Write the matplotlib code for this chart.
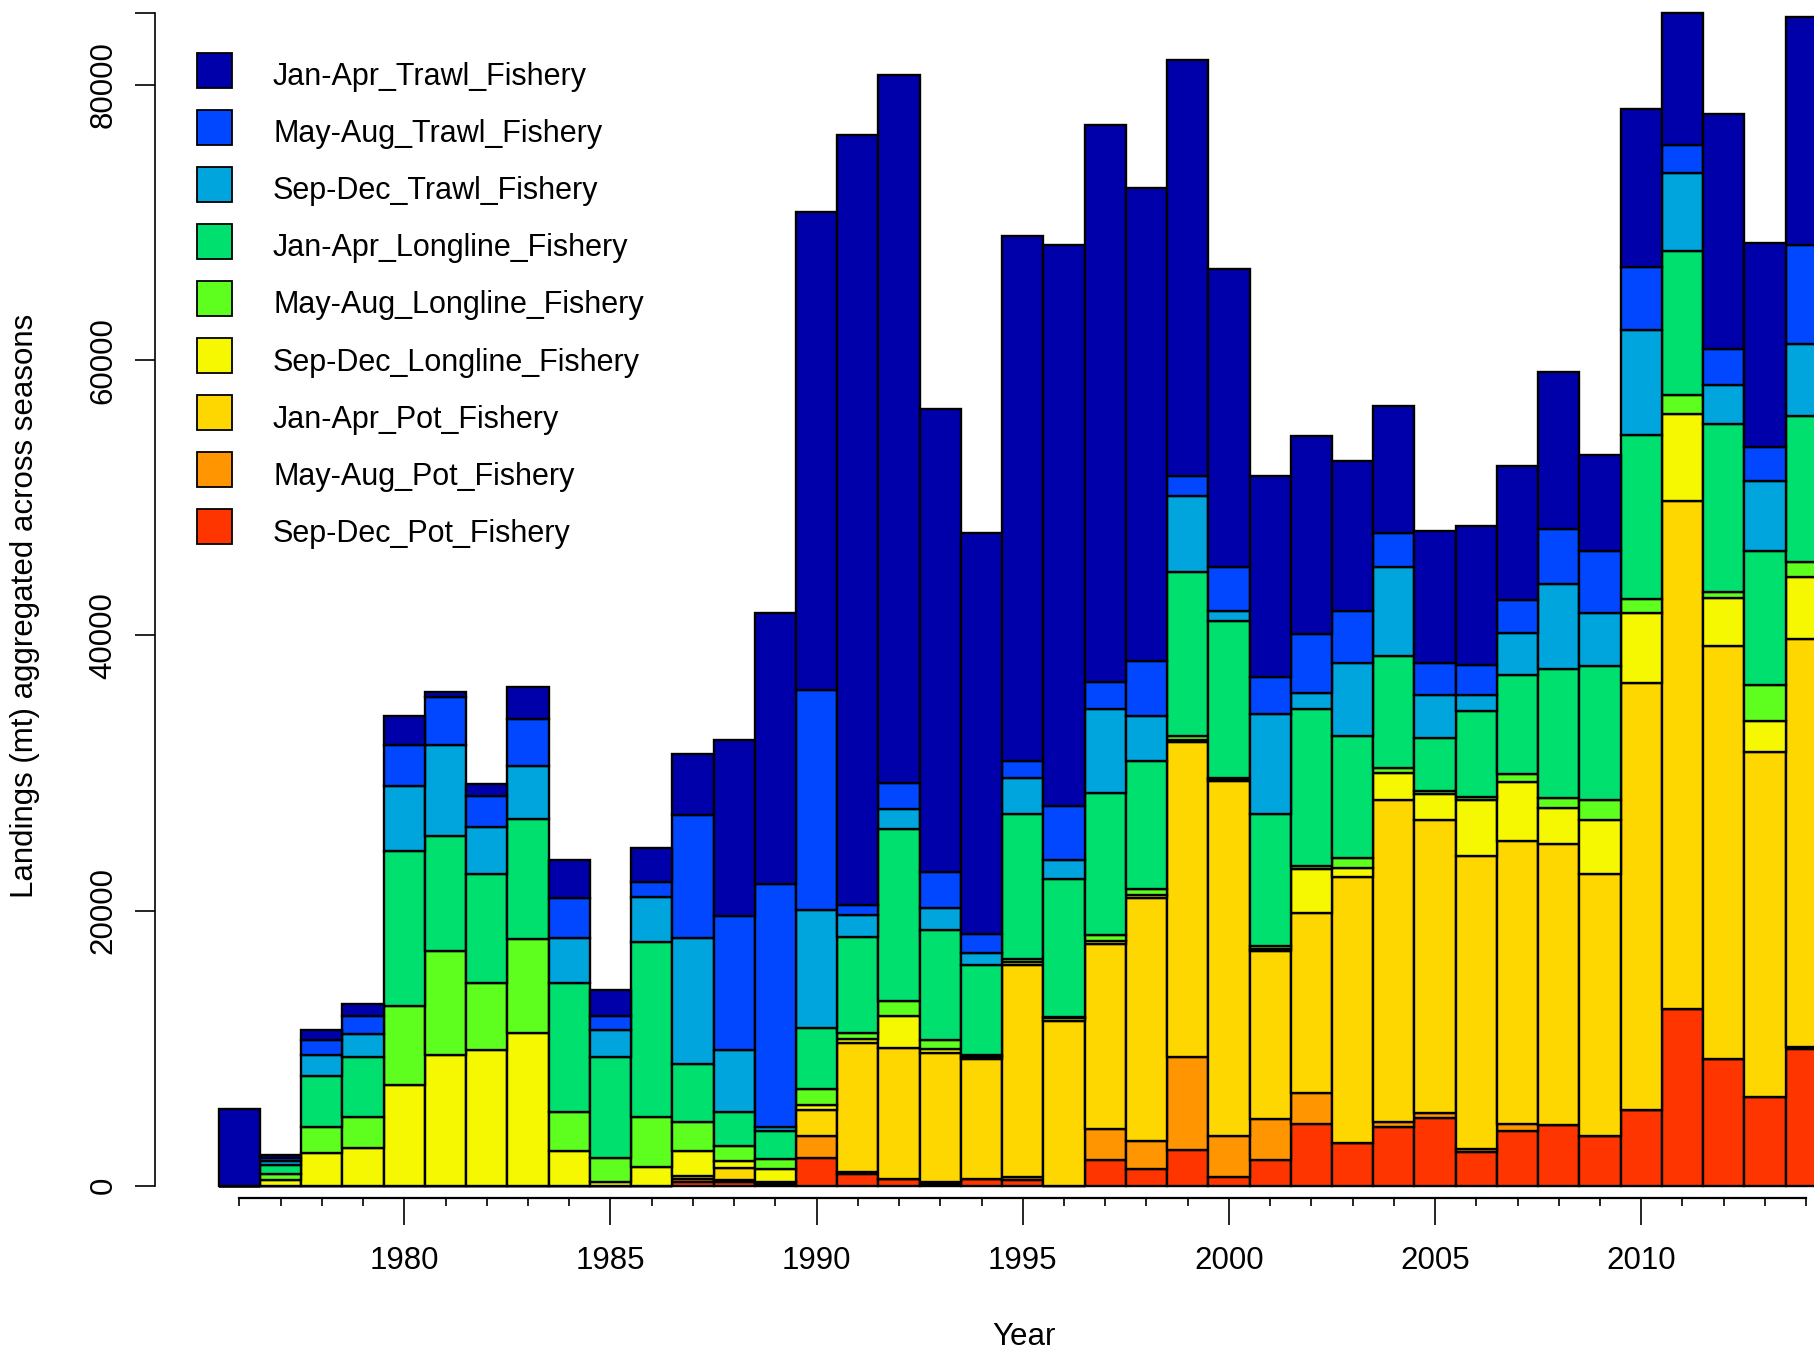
import numpy as np
import matplotlib
matplotlib.use("Agg")
import matplotlib.pyplot as plt
from matplotlib.patches import Rectangle

plt.rcParams['font.family'] = ['Liberation Sans', 'DejaVu Sans']

years = np.arange(1976, 2015)

# landings (mt) by fleet, stacked bottom -> top
sep_dec_pot = [0, 0, 0, 0, 0, 0, 0, 0, 0, 0, 0, 270, 250, 150, 2020, 850, 490, 100, 490, 420,
               0, 1880, 1185, 2576, 629, 1880, 4467, 3132, 4272, 4940, 2437, 3940, 4383, 3577,
               5496, 12866, 9195, 6414, 9900]
may_aug_pot = [0, 0, 0, 0, 0, 0, 0, 0, 0, 0, 0, 200, 200, 0, 1613, 150, 0, 200, 0, 180,
               0, 2253, 2086, 6813, 3004, 2948, 2280, 0, 390, 361, 250, 520, 0, 0,
               0, 0, 0, 0, 150]
jan_apr_pot = [0, 0, 0, 0, 0, 0, 0, 0, 0, 0, 0, 240, 820, 150, 1863, 9363, 9539, 9368, 8705, 15464,
               11976, 13405, 17604, 22833, 25808, 12210, 13072, 19273, 23389, 21276, 21303, 20580,
               20469, 19051, 31065, 36933, 30036, 25085, 29653]
sep_dec_ll = [0, 438, 2380, 2743, 7304, 9529, 9890, 11086, 2520, 240, 1324, 1810, 556, 885, 361,
              300, 2281, 250, 150, 200, 200, 278, 223, 195, 100, 200, 3198, 695, 1919, 1891, 4033,
              4311, 2615, 3949, 5034, 6313, 3504, 2281, 4562]
may_aug_ll = [0, 376, 1920, 2224, 5729, 7508, 4867, 6814, 2837, 1807, 3643, 2086, 1057, 779, 1196,
              420, 1112, 667, 184, 245, 100, 417, 473, 278, 100, 150, 250, 696, 361, 230, 250,
              556, 695, 1446, 1055, 1391, 417, 2586, 1057]
jan_apr_ll = [0, 690, 3640, 4367, 11263, 8372, 7871, 8732, 9400, 7287, 12766, 4227, 2475, 2030, 4422,
              7008, 12515, 8010, 6479, 10485, 9990, 10290, 9261, 11904, 11397, 9606, 11375, 8899,
              8149, 3858, 6230, 7175, 9400, 9762, 11877, 10457, 12209, 9762, 10596]
sep_dec_trawl = [0, 315, 1530, 1724, 4784, 6591, 3476, 3838, 3282, 1947, 3281, 9206, 4533, 250, 8566,
                 1586, 1446, 1585, 890, 2642, 1391, 6119, 3309, 5562, 751, 7314, 1196, 5284, 6452,
                 3143, 1168, 3115, 6147, 3810, 7676, 5618, 2809, 5090, 5284]
may_aug_trawl = [0, 180, 1110, 1252, 2920, 3532, 2225, 3477, 2836, 1029, 1057, 8899, 9734, 17660, 15991,
                 695, 1891, 2642, 1391, 1196, 3976, 1947, 3977, 1446, 3171, 2642, 4227, 3810, 2503,
                 2280, 2169, 2400, 4004, 4533, 4561, 2058, 2642, 2447, 7147]
jan_apr_trawl = [5580, 230, 700, 917, 2141, 361, 890, 2280, 2782, 1891, 2475, 4422, 12737, 19746, 34764,
                 56012, 51479, 33652, 29146, 38185, 40744, 40493, 34431, 30203, 21665, 14657, 14406,
                 10875, 9261, 9595, 10096, 9698, 11403, 7009, 11514, 9622, 17104, 14851, 16576]

fleet_names = ["Jan-Apr_Trawl_Fishery", "May-Aug_Trawl_Fishery", "Sep-Dec_Trawl_Fishery",
               "Jan-Apr_Longline_Fishery", "May-Aug_Longline_Fishery", "Sep-Dec_Longline_Fishery",
               "Jan-Apr_Pot_Fishery", "May-Aug_Pot_Fishery", "Sep-Dec_Pot_Fishery"]
fleet_cols = ["#0000AA", "#0047FF", "#00A5DD", "#00E06E", "#5EFF1F",
              "#F5F800", "#FFD700", "#FF9500", "#FF3500"]
fleet_vals = [jan_apr_trawl, may_aug_trawl, sep_dec_trawl, jan_apr_ll, may_aug_ll,
              sep_dec_ll, jan_apr_pot, may_aug_pot, sep_dec_pot]

W, H = 1815, 1351
fig = plt.figure(figsize=(W / 100, H / 100), dpi=100)
ax = fig.add_axes([155 / W, 153 / H, 1 - 155 / W, 1198 / H])

# stack from the bottom (Sep-Dec pot) up to Jan-Apr trawl
bottom = np.zeros(len(years))
for name, col, vals in zip(fleet_names[::-1], fleet_cols[::-1], fleet_vals[::-1]):
    vals = np.array(vals, dtype=float)
    ax.bar(years, vals, width=1.0, bottom=bottom, color=col, edgecolor='black',
           linewidth=1.7, align='center', zorder=2)
    bottom += vals

ymax = bottom.max()
ax.set_xlim(1973.953, 2014.214)
ax.set_ylim(-894, 86177)

for s in ['top', 'right']:
    ax.spines[s].set_visible(False)
ax.spines['left'].set_bounds(0, ymax)
ax.spines['bottom'].set_bounds(1976, 2014)
ax.spines['left'].set_linewidth(1.2)
ax.spines['bottom'].set_linewidth(1.6)

ax.set_yticks([0, 20000, 40000, 60000, 80000, ymax])
ax.set_yticklabels(['0', '20000', '40000', '60000', '80000', ''])
ax.tick_params(axis='y', length=14.4, width=1.2, pad=12, labelsize=22.5,
               labelrotation=90)
for lab in ax.get_yticklabels():
    lab.set_va('center')

ax.set_xticks(np.arange(1980, 2011, 5))
ax.set_xticks(years, minor=True)
ax.tick_params(axis='x', which='major', length=19.4, width=1.2, pad=15.5, labelsize=22.5)
ax.tick_params(axis='x', which='minor', length=5.8, width=1.2)

fig.text(25 / W, 1 - 606 / H, "Landings (mt) aggregated across seasons", rotation=90,
         ha='center', va='center', fontsize=22.5)
fig.text(1024 / W, 1 - 1345 / H, "Year", ha='center', va='baseline', fontsize=22.5)

# legend drawn like R's legend(): filled squares and labels
for i, (name, col) in enumerate(zip(fleet_names, fleet_cols)):
    yc = 70 + i * 57.1
    fig.add_artist(Rectangle((197 / W, 1 - (yc + 17.5) / H), 35 / W, 35 / H,
                             transform=fig.transFigure, facecolor=col,
                             edgecolor='black', linewidth=1.3))
    fig.text(273 / W, 1 - (yc + 15) / H, name, ha='left', va='baseline', fontsize=22)

fig.savefig("out.png", dpi=100)
